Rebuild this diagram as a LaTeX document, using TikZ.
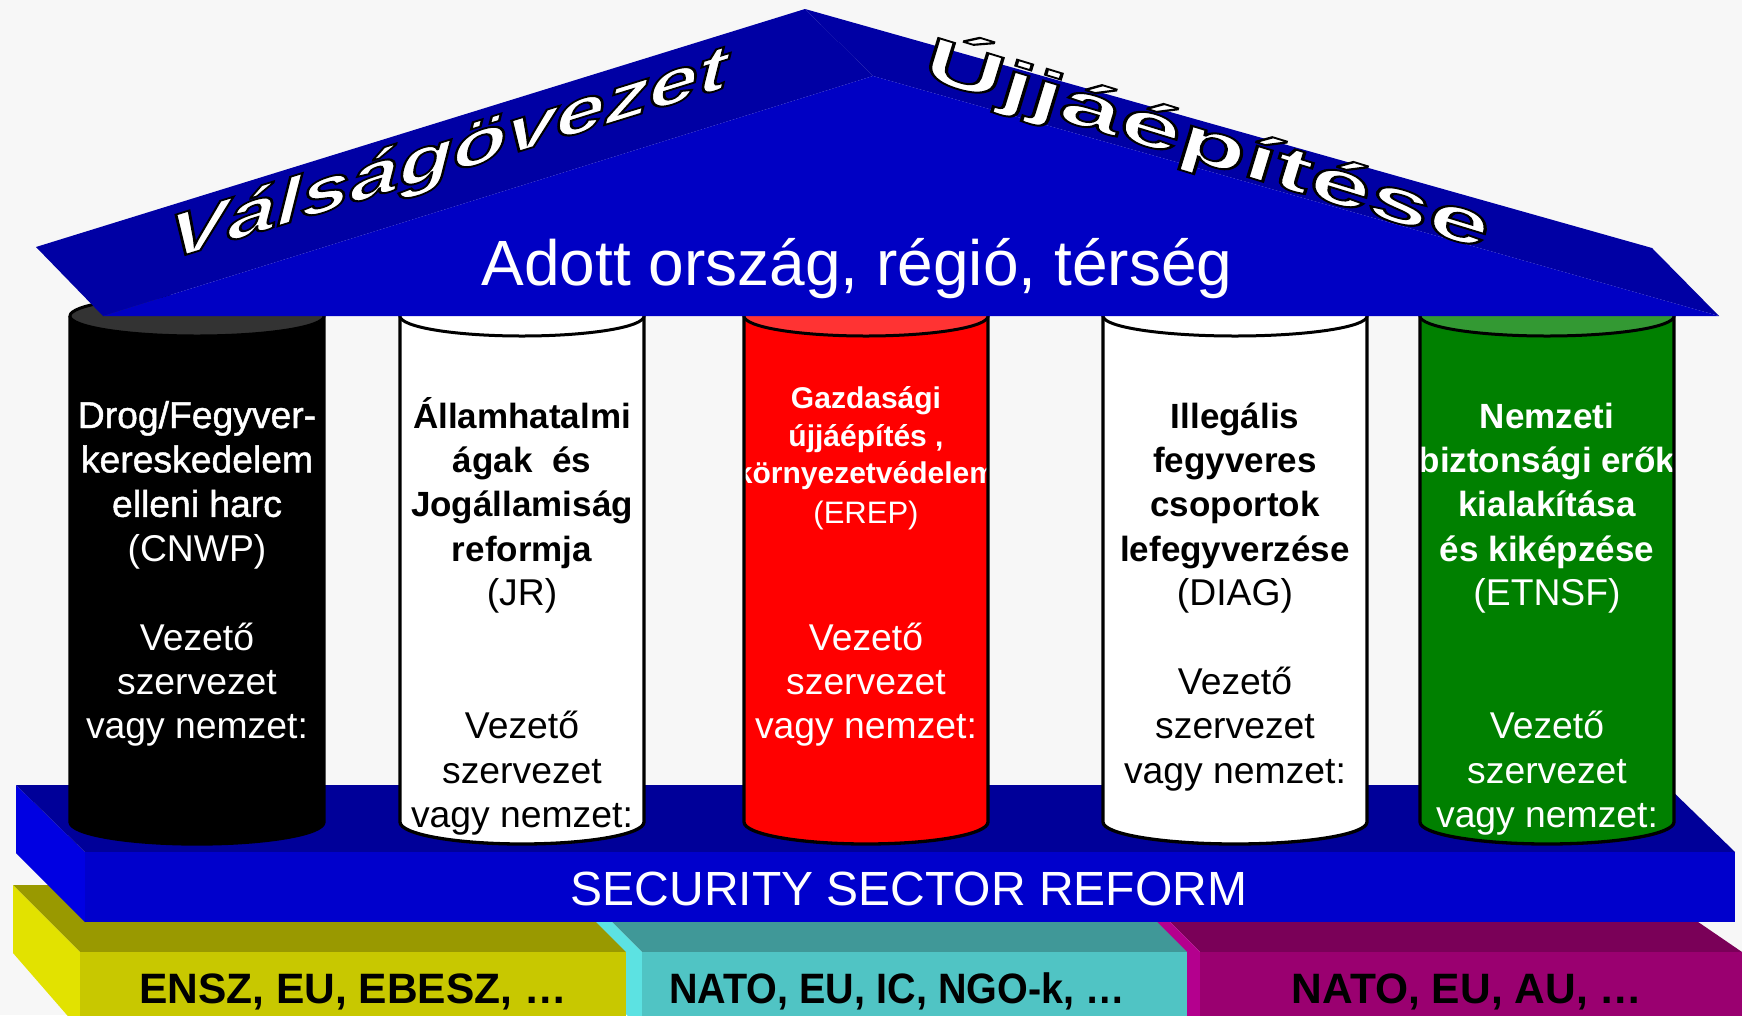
\documentclass[tikz,border=0pt]{standalone}
\usepackage{fontspec}
\setmainfont{Liberation Sans}
\newfontfamily\outfont[FakeBold=3,BoldFeatures={FakeBold=3},BoldItalicFeatures={FakeBold=3},ItalicFeatures={FakeBold=3}]{Liberation Sans}
\newfontfamily\semibold[FakeBold=1.2]{Liberation Sans}
\newcommand\whiteoutline[1]{\special{pdf:bcolor [1 1 1] [0 0 0]}#1\special{pdf:ecolor}}
\definecolor{bg}{RGB}{247,247,247}
\definecolor{roofTop}{HTML}{0000A4}
\definecolor{roofFront}{HTML}{0000C4}
\definecolor{slabTop}{HTML}{000099}
\definecolor{slabFront}{HTML}{0000CC}
\definecolor{slabLeft}{HTML}{0000E2}
\definecolor{yelTop}{HTML}{999900}
\definecolor{yelFront}{HTML}{C8C800}
\definecolor{yelLeft}{HTML}{E2E200}
\definecolor{cyaTop}{HTML}{409898}
\definecolor{cyaFront}{HTML}{50C4C4}
\definecolor{cyaLeft}{HTML}{5CE2E2}
\definecolor{magTop}{HTML}{7A0058}
\definecolor{magFront}{HTML}{9A0070}
\definecolor{magLeft}{HTML}{B4008E}
\definecolor{capBlack}{HTML}{333333}
\definecolor{capRed}{HTML}{FF3333}
\definecolor{capGreen}{HTML}{339933}
\definecolor{bodyGreen}{HTML}{008000}
\newcommand\pillarfill[4]{%
  \fill[#3] (#1-#2,316) -- (#1-#2,822) arc[start angle=180,end angle=0,x radius=#2,y radius=22] -- (#1+#2,316) -- cycle;
}
\newcommand\pillardraw[4]{%
  \draw[black,line width=3.3] (#1-#2,316) -- (#1-#2,822) arc[start angle=180,end angle=0,x radius=#2,y radius=22] -- (#1+#2,316);
  \filldraw[fill=#4,draw=black,line width=3] (#1,316) ellipse [x radius=#2, y radius=20];
}
\begin{document}
\begin{tikzpicture}[x=1pt,y=-1pt,
  reg/.style={anchor=base,font=\fontsize{37.3}{44}\selectfont},
  sb/.style={anchor=base,font=\fontsize{37.3}{44}\semibold},
  bld/.style={anchor=base,font=\fontsize{35}{44}\selectfont\bfseries},
  regsm/.style={anchor=base,font=\fontsize{31}{38}\selectfont},
  bldsm/.style={anchor=base,font=\fontsize{30}{38}\selectfont\bfseries},
  tierlbl/.style={anchor=base,font=\fontsize{42.5}{48}\selectfont\bfseries,text=black},
  leftout/.style={font=\fontsize{63}{68}\outfont\bfseries\itshape,yslant=0.31,xscale=1.4},
  rightout/.style={font=\fontsize{62}{66}\outfont\bfseries,rotate=-17,xscale=1.8}]
\useasboundingbox (0,0) rectangle (1742,1015);
\clip (0,0) rectangle (1742,1015);
\fill[bg] (0,0) rectangle (1742,1015);

% ---- bottom tier ----
\fill[magTop] (1133,885) -- (1644,885) -- (1742,952) -- (1200,952) -- cycle;
\fill[magLeft] (1133,885) -- (1200,952) -- (1200,1030) -- (1133,963) -- cycle;
\fill[magFront] (1200,952) rectangle (1800,1030);
\fill[cyaTop] (575,885) -- (1120,885) -- (1187,952) -- (642,952) -- cycle;
\fill[cyaLeft] (575,885) -- (642,952) -- (642,1030) -- (575,963) -- cycle;
\fill[cyaFront] (642,952) rectangle (1187,1030);
\fill[yelTop] (13,885) -- (559,885) -- (626,952) -- (80,952) -- cycle;
\fill[yelLeft] (13,885) -- (80,952) -- (80,1030) -- (13,953) -- cycle;
\fill[yelFront] (80,952) rectangle (626,1030);
\node[tierlbl] (t1) at (353,1003) {ENSZ, EU, EBESZ, …};
\node[tierlbl,xscale=0.93] (t2) at (897,1003) {NATO, EU, IC, NGO-k, …};
\node[tierlbl] (t3) at (1467,1003) {NATO, EU, AU, …};

% ---- slab ----
\fill[slabLeft] (16,785) -- (85,852) -- (85,922) -- (16,853) -- cycle;
\fill[slabTop] (16,785) -- (1666,785) -- (1735,852) -- (85,852) -- cycle;
\fill[slabFront] (85,852) rectangle (1735,922);
\node[anchor=base,text=white,font=\fontsize{48}{55}\selectfont] (ssr) at (909,905) {SECURITY SECTOR REFORM};

% ---- pillars ----
\pillarfill{197}{127}{black}{capBlack}
\node[sb,text=white] (p1a) at (197,428) {Drog/Fegyver-};
\node[sb,text=white] (p1b) at (197,472.4) {kereskedelem};
\node[sb,text=white] (p1c) at (197,516.8) {elleni harc};
\node[reg,text=white] (p1d) at (197,561.2) {(CNWP)};
\node[reg,text=white] (p1e) at (197,650) {Vezető};
\node[reg,text=white] (p1f) at (197,694.4) {szervezet};
\node[reg,text=white] (p1g) at (197,738.8) {vagy nemzet:};
\pillardraw{197}{127}{black}{capBlack}

\pillarfill{522}{122}{white}{white}
\node[bld] (p2a) at (522,428) {Államhatalmi};
\node[bld] (p2b) at (522,472.4) {ágak\ \ és};
\node[bld] (p2c) at (522,516.8) {Jogállamiság};
\node[bld] (p2d) at (522,561.2) {reformja};
\node[reg] (p2e) at (522,605.6) {(JR)};
\node[reg] (p2f) at (522,738.8) {Vezető};
\node[reg] (p2g) at (522,783.2) {szervezet};
\node[reg] (p2h) at (522,827.6) {vagy nemzet:};
\pillardraw{522}{122}{white}{white}

\pillarfill{866}{122}{red}{capRed}
\begin{scope}
\clip (744,300) rectangle (988,850);
\node[bldsm,text=white] (p3a) at (866,408) {Gazdasági};
\node[bldsm,text=white] (p3b) at (866,446) {újjáépítés ,};
\node[bldsm,text=white] (p3c) at (866,483) {környezetvédelem};
\node[regsm,text=white] (p3d) at (866,523) {(EREP)};
\node[reg,text=white] (p3e) at (866,650) {Vezető};
\node[reg,text=white] (p3f) at (866,694.4) {szervezet};
\node[reg,text=white] (p3g) at (866,738.8) {vagy nemzet:};
\end{scope}
\pillardraw{866}{122}{red}{capRed}

\pillarfill{1235}{132}{white}{white}
\node[bld] (p4a) at (1235,428) {Illegális};
\node[bld] (p4b) at (1235,472.4) {fegyveres};
\node[bld] (p4c) at (1235,516.8) {csoportok};
\node[bld] (p4d) at (1235,561.2) {lefegyverzése};
\node[reg] (p4e) at (1235,605.6) {(DIAG)};
\node[reg] (p4f) at (1235,694.4) {Vezető};
\node[reg] (p4g) at (1235,738.8) {szervezet};
\node[reg] (p4h) at (1235,783.2) {vagy nemzet:};
\pillardraw{1235}{132}{white}{white}

\pillarfill{1547}{127}{bodyGreen}{capGreen}
\begin{scope}
\clip (1420,300) rectangle (1674,850);
\node[bld,text=white] (p5a) at (1547,428) {Nemzeti};
\node[bld,text=white] (p5b) at (1547,472.4) {biztonsági erők};
\node[bld,text=white] (p5c) at (1547,516.8) {kialakítása};
\node[bld,text=white] (p5d) at (1547,561.2) {és kiképzése};
\node[reg,text=white] (p5e) at (1547,605.6) {(ETNSF)};
\node[reg,text=white] (p5f) at (1547,738.8) {Vezető};
\node[reg,text=white] (p5g) at (1547,783.2) {szervezet};
\node[reg,text=white] (p5h) at (1547,827.6) {vagy nemzet:};
\end{scope}
\pillardraw{1547}{127}{bodyGreen}{capGreen}

% ---- roof ----
\fill[roofTop] (36,247) -- (805,9) -- (873,76) -- (103,316) -- cycle;
\fill[roofTop] (805,9) -- (1652,248) -- (1719,316) -- (873,76) -- cycle;
\fill[roofFront] (103,316) -- (873,76) -- (1719,316) -- cycle;
\node[anchor=base,text=white,font=\fontsize{64}{70}\selectfont] (region) at (857,285) {Adott ország, régió, térség};

\node[leftout,text=white] (crisis) at (448,157) {\whiteoutline{Válságövezet}};
\node[rightout,text=white] (rebuild) at (1208,143) {\whiteoutline{Újjáépítése}};
\end{tikzpicture}
\end{document}
